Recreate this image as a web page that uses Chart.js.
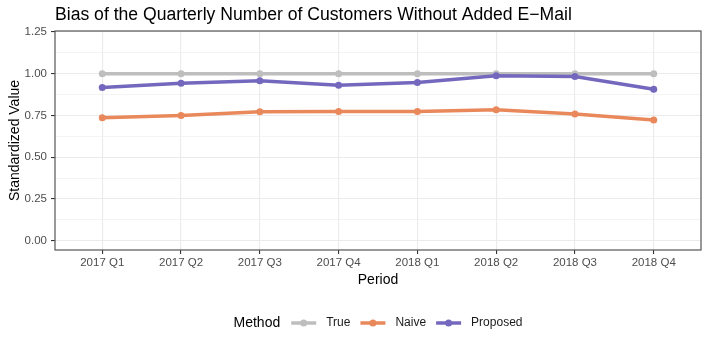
<!DOCTYPE html>
<html>
<head>
<meta charset="utf-8">
<script src="https://cdn.jsdelivr.net/npm/chart.js@4.4.0/dist/chart.umd.min.js"></script>
<style>
  html, body { margin: 0; padding: 0; background: #fff; }
</style>
</head>
<body>
<canvas id="biasChart" width="708" height="353"></canvas>
<script>
// Data
const periods = ['2017 Q1', '2017 Q2', '2017 Q3', '2017 Q4', '2018 Q1', '2018 Q2', '2018 Q3', '2018 Q4'];
const trueValues = [1, 1, 1, 1, 1, 1, 1, 1];
const naiveValues = [0.736, 0.749, 0.772, 0.773, 0.773, 0.784, 0.758, 0.722];
const proposedValues = [0.917, 0.943, 0.957, 0.931, 0.947, 0.987, 0.983, 0.907];
const yMajorTicks = [0, 0.25, 0.5, 0.75, 1, 1.25];
const yMinorTicks = [0.125, 0.375, 0.625, 0.875, 1.125];
const chartTitle = 'Bias of the Quarterly Number of Customers Without Added E\u2212Mail';

const FONT = "'Liberation Sans', Arial, Helvetica, sans-serif";
const colors = { True: '#BEBEBE', Naive: '#E9895B', Proposed: '#7468BE' };

const isMajor = v => yMajorTicks.some(m => Math.abs(m - v) < 1e-9);
const toPoints = vals => vals.map((v, i) => ({ x: i, y: v }));

// title aligned with the panel's left edge (ggplot default)
const panelTitle = {
    id: 'panelTitle',
    afterDraw(chart) {
        const { ctx, chartArea: a } = chart;
        ctx.save();
        ctx.font = '17.6px ' + FONT;
        ctx.fillStyle = '#000';
        ctx.textBaseline = 'alphabetic';
        ctx.fillText(chartTitle, a.left, 19.5);
        ctx.restore();
    }
};

// panel border on top of the lines, like theme_bw
const panelBorder = {
    id: 'panelBorder',
    afterDatasetsDraw(chart) {
        const { ctx, chartArea: a } = chart;
        ctx.save();
        ctx.strokeStyle = '#555555';
        ctx.lineWidth = 1.2;
        ctx.strokeRect(a.left, a.top, a.right - a.left, a.bottom - a.top);
        ctx.restore();
    }
};

// ggplot-style legend: title on the left, line+point keys inline
const methodLegend = {
    id: 'methodLegend',
    afterDraw(chart) {
        const { ctx, chartArea: a } = chart;
        const y = 323;
        const keyW = 25, gap = 10;
        const items = chart.data.datasets.map(ds => ({ label: ds.label, color: ds.borderColor }));

        ctx.save();
        ctx.textBaseline = 'middle';
        ctx.font = '14px ' + FONT;
        const titleW = ctx.measureText('Method').width;
        ctx.font = '12px ' + FONT;
        let total = titleW + 11;
        items.forEach((it, i) => {
            it.w = ctx.measureText(it.label).width;
            total += keyW + gap + it.w + (i < items.length - 1 ? gap : 0);
        });

        let x = (a.left + a.right) / 2 - total / 2;
        ctx.fillStyle = '#000';
        ctx.font = '14px ' + FONT;
        ctx.fillText('Method', x, y);
        x += titleW + 11;

        ctx.font = '12px ' + FONT;
        items.forEach(it => {
            ctx.strokeStyle = it.color;
            ctx.lineWidth = 3.5;
            ctx.beginPath();
            ctx.moveTo(x, y);
            ctx.lineTo(x + keyW, y);
            ctx.stroke();
            ctx.fillStyle = it.color;
            ctx.beginPath();
            ctx.arc(x + keyW / 2, y, 3.5, 0, Math.PI * 2);
            ctx.fill();
            x += keyW + gap;
            ctx.fillStyle = '#1a1a1a';
            ctx.fillText(it.label, x, y);
            x += it.w + gap;
        });
        ctx.restore();
    }
};

const lineStyle = color => ({
    borderColor: color,
    backgroundColor: color,
    borderWidth: 3.5,
    pointRadius: 3.5,
    pointHoverRadius: 3.5,
    pointBorderWidth: 0,
    tension: 0
});

new Chart(document.getElementById('biasChart'), {
    type: 'line',
    data: {
        datasets: [
            { label: 'True', data: toPoints(trueValues), order: 3, ...lineStyle(colors.True) },
            { label: 'Naive', data: toPoints(naiveValues), order: 2, ...lineStyle(colors.Naive) },
            { label: 'Proposed', data: toPoints(proposedValues), order: 1, ...lineStyle(colors.Proposed) }
        ]
    },
    options: {
        responsive: false,
        animation: false,
        devicePixelRatio: 1,
        layout: { padding: { left: 8, right: 7, top: 31, bottom: 60 } },
        plugins: {
            legend: { display: false },
            tooltip: { enabled: false },
            title: { display: false }
        },
        scales: {
            x: {
                type: 'linear',
                min: -0.6,
                max: periods.length - 1 + 0.6,
                afterBuildTicks: axis => { axis.ticks = periods.map((p, i) => ({ value: i })); },
                afterFit: scale => { scale.height = 43; },
                ticks: {
                    callback: v => periods[v],
                    color: '#4D4D4D',
                    font: { family: FONT, size: 11.5 },
                    padding: 2,
                    autoSkip: false,
                    maxRotation: 0
                },
                grid: { color: '#EBEBEB', lineWidth: 1.1, tickColor: '#333333', tickLength: 4, drawTicks: true },
                border: { display: false },
                title: {
                    display: true,
                    text: 'Period',
                    color: '#000',
                    font: { family: FONT, size: 14, lineHeight: 1 },
                    padding: { top: 0, bottom: 6 }
                }
            },
            y: {
                type: 'linear',
                min: -0.055,
                max: 1.255,
                afterBuildTicks: axis => {
                    axis.ticks = [...yMajorTicks, ...yMinorTicks].sort((p, q) => p - q).map(v => ({ value: v }));
                },
                afterFit: scale => { scale.width = 47; },
                ticks: {
                    callback: v => isMajor(v) ? v.toFixed(2) : '',
                    color: '#4D4D4D',
                    font: { family: FONT, size: 11.5 },
                    padding: 4
                },
                grid: {
                    color: '#EBEBEB',
                    lineWidth: ctx => isMajor(ctx.tick.value) ? 1.1 : 0.55,
                    tickColor: ctx => isMajor(ctx.tick.value) ? '#333333' : 'rgba(0,0,0,0)',
                    tickLength: 4,
                    drawTicks: true
                },
                border: { display: false },
                title: {
                    display: true,
                    text: 'Standardized Value',
                    color: '#000',
                    font: { family: FONT, size: 14, lineHeight: 1 },
                    padding: { top: 0, bottom: 0 }
                }
            }
        }
    },
    plugins: [panelBorder, panelTitle, methodLegend]
});
</script>
</body>
</html>
